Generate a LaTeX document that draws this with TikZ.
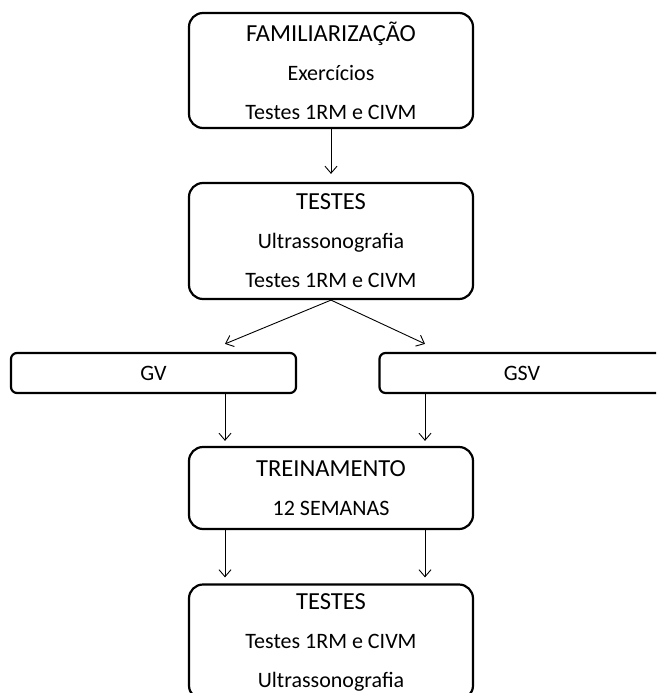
\documentclass[tikz,border=0pt]{standalone}
\usepackage{fontspec}
\setmainfont{Carlito}
\usetikzlibrary{arrows.meta}
\begin{document}
\begin{tikzpicture}[
        x=1pt, y=1pt,
        stage/.style={draw, line width=2.2pt, rounded corners=14pt, minimum width=284pt,
            inner sep=0pt, align=center, font=\fontsize{22}{39}\selectfont},
        group/.style={stage, rounded corners=6pt, minimum width=285pt, minimum height=40pt},
        flow/.style={line width=0.9pt, -{Straight Barb[length=7pt, width=12pt]}}
    ]
        \useasboundingbox (0,0) rectangle (656,-693);
        \clip (0,0) rectangle (656,-693);
        % Study stages
        \node[stage, minimum height=115pt] (fam) at (331,-70.5)
            {{\fontsize{24.5}{39}\selectfont FAMILIARIZAÇÃO}\\Exercícios\\Testes 1RM e CIVM};
        \node[stage, minimum height=116pt] (pre) at (331,-241)
            {{\fontsize{24.5}{39}\selectfont TESTES}\\Ultrassonografia\\Testes 1RM e CIVM};
        \node[group] (gv) at (153.5,-373) {GV};
        \node[group] (gsv) at (522,-373) {GSV};
        \node[stage, minimum height=82pt] (trn) at (331,-488)
            {{\fontsize{24.5}{39}\selectfont TREINAMENTO}\\12 SEMANAS};
        \node[stage, minimum height=115pt] (post) at (331,-642)
            {{\fontsize{24.5}{39}\selectfont TESTES}\\Testes 1RM e CIVM\\Ultrassonografia};
        % Arrow columns
        \coordinate (cl) at (225,0);
        \coordinate (cr) at (425,0);
        \draw[flow] (fam.south) -- ([yshift=8pt]pre.north);
        \foreach \col/\grp in {cl/gv, cr/gsv} {
            \draw[flow] (pre.south) -- ([yshift=8pt]gv.north -| \col);
            \draw[flow] (\grp.south -| \col) -- ([yshift=5pt]trn.north -| \col);
            \draw[flow] (trn.south -| \col) -- ([yshift=6pt]post.north -| \col);
        }
    \end{tikzpicture}
\end{document}
